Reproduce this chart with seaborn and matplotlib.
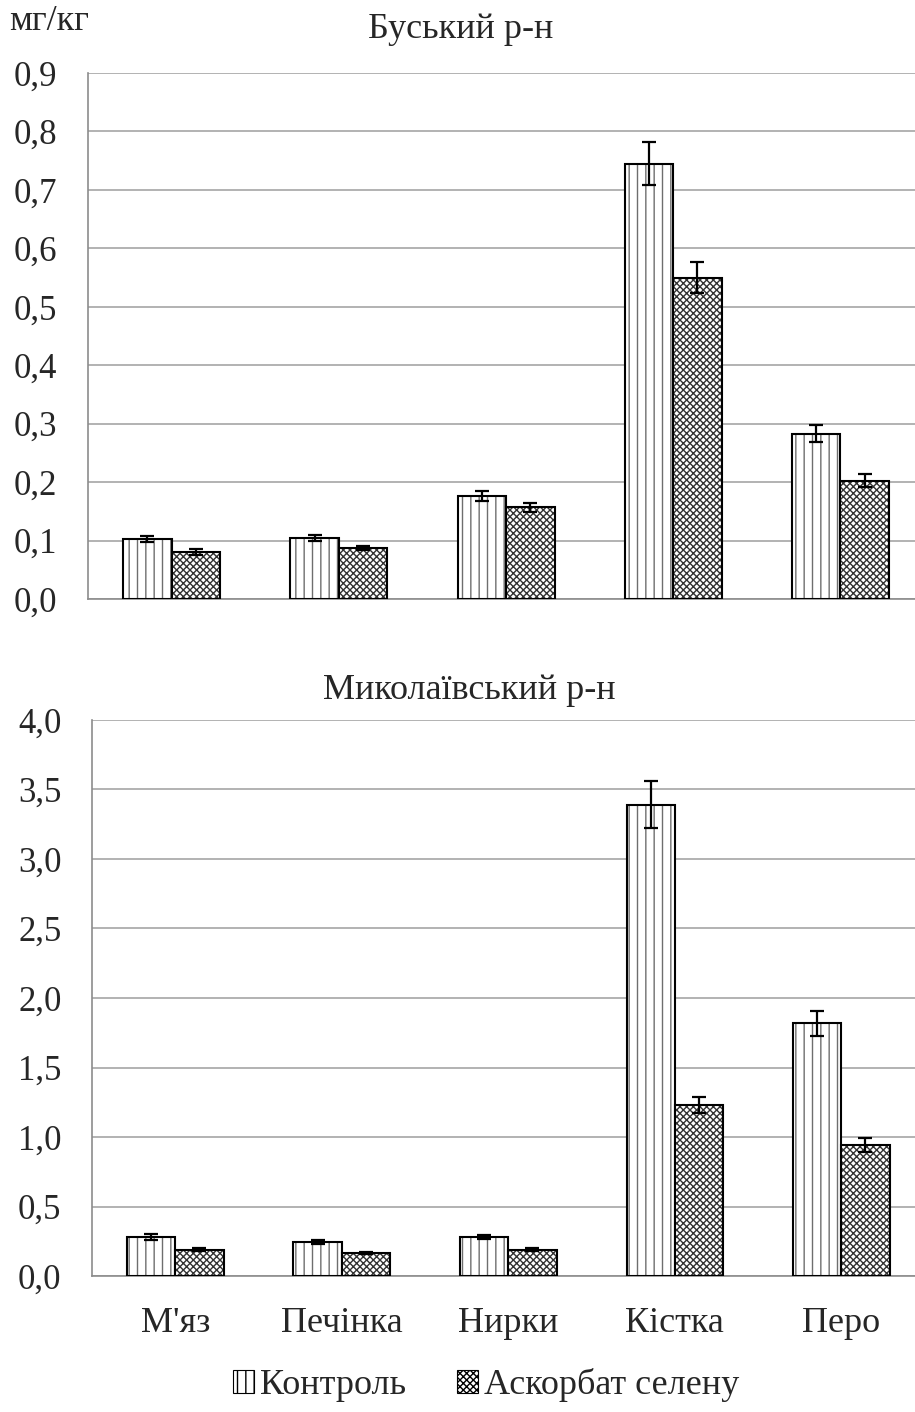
import numpy as np
import pandas as pd
import matplotlib
matplotlib.use("Agg")
import matplotlib.pyplot as plt
import seaborn as sns
from matplotlib.patches import Patch

# data
organs = ["М'яз", "Печінка", "Нирки", "Кістка", "Перо"]
groups = ["Контроль", "Аскорбат селену"]

busk_control = [0.102, 0.104, 0.176, 0.745, 0.283]
busk_control_err = [0.005, 0.005, 0.008, 0.037, 0.015]
busk_ascorb = [0.080, 0.087, 0.157, 0.550, 0.202]
busk_ascorb_err = [0.005, 0.004, 0.008, 0.027, 0.011]

mykol_control = [0.28, 0.245, 0.28, 3.39, 1.82]
mykol_control_err = [0.02, 0.015, 0.015, 0.17, 0.09]
mykol_ascorb = [0.19, 0.165, 0.19, 1.23, 0.94]
mykol_ascorb_err = [0.01, 0.01, 0.01, 0.06, 0.05]

busk_yticks = [0.0, 0.1, 0.2, 0.3, 0.4, 0.5, 0.6, 0.7, 0.8, 0.9]
busk_yticklabels = ["0,0", "0,1", "0,2", "0,3", "0,4", "0,5", "0,6", "0,7", "0,8", "0,9"]
mykol_yticks = [0.0, 0.5, 1.0, 1.5, 2.0, 2.5, 3.0, 3.5, 4.0]
mykol_yticklabels = ["0,0", "0,5", "1,0", "1,5", "2,0", "2,5", "3,0", "3,5", "4,0"]

sns.set_style("white")
plt.rcParams['font.family'] = ['Liberation Serif', 'DejaVu Serif']
plt.rcParams['hatch.linewidth'] = 1.0

hatches = ['||', 'xxxxx']
hatch_colors = ['#6e6e6e', '#333333']


def make_df(ctrl, asc):
    return pd.DataFrame({
        'organ': organs * 2,
        'group': [groups[0]] * 5 + [groups[1]] * 5,
        'value': list(ctrl) + list(asc),
    })


def draw(ax, ctrl, ctrl_err, asc, asc_err, yticks, yticklabels, show_labels):
    df = make_df(ctrl, asc)
    sns.barplot(data=df, x='organ', y='value', hue='group', order=organs,
                hue_order=groups, width=0.58, palette=['white', 'white'],
                edgecolor='black', linewidth=1.5, errorbar=None, legend=False,
                ax=ax, zorder=3)
    errs = list(ctrl_err) + list(asc_err)
    for i, bar in enumerate(ax.patches[:10]):
        bar.set_hatch(hatches[i // 5])
        bar._hatch_color = matplotlib.colors.to_rgba(hatch_colors[i // 5])
        cx = bar.get_x() + bar.get_width() / 2
        ax.errorbar(cx, bar.get_height(), yerr=errs[i], fmt='none',
                    ecolor='black', elinewidth=1.6, capsize=5, capthick=1.6,
                    zorder=4)
    ax.set_ylim(yticks[0], yticks[-1])
    ax.set_yticks(yticks)
    ax.set_yticklabels(yticklabels, fontsize=25)
    ax.yaxis.grid(True, color='#a6a6a6', linewidth=1.2, zorder=0)
    ax.set_axisbelow(True)
    ax.set_xlim(-0.5, 4.5)
    ax.set_xticks(range(5))
    if show_labels:
        ax.set_xticklabels(organs, fontsize=26)
    else:
        ax.set_xticklabels([])
    ax.set_xticks(np.arange(-0.5, 5.0, 1.0), minor=True)
    ax.tick_params(axis='x', which='major', length=0, pad=22)
    ax.tick_params(axis='x', which='minor', length=10, color='#8c8c8c', width=1.2)
    ax.tick_params(axis='y', length=10, color='#8c8c8c', width=1.2, pad=12)
    ax.set_xlabel('')
    ax.set_ylabel('')
    for side in ['top', 'right']:
        ax.spines[side].set_visible(False)
    for side in ['left', 'bottom']:
        ax.spines[side].set_color('#8c8c8c')
        ax.spines[side].set_linewidth(1.2)


fig = plt.figure(figsize=(9.15, 14.12), dpi=100)
ax1 = fig.add_axes([0.0962, 0.5758, 0.9137, 0.3725])
ax2 = fig.add_axes([0.1005, 0.0963, 0.910, 0.3938])

draw(ax1, busk_control, busk_control_err, busk_ascorb, busk_ascorb_err,
     busk_yticks, busk_yticklabels, False)
draw(ax2, mykol_control, mykol_control_err, mykol_ascorb, mykol_ascorb_err,
     mykol_yticks, mykol_yticklabels, True)

fig.text(0.503, 0.979, 'Буський р-н', fontsize=26, ha='center', va='center')
fig.text(0.513, 0.511, 'Миколаївський р-н', fontsize=26, ha='center', va='center')
fig.text(0.010, 0.985, 'мг/кг', fontsize=26, ha='left', va='center')

# legend
handles = [Patch(facecolor='white', edgecolor='black', hatch=hatches[0], linewidth=0.8),
           Patch(facecolor='white', edgecolor='black', hatch=hatches[1], linewidth=0.8)]
fig.legend(handles, groups, loc='center', bbox_to_anchor=(0.531, 0.019), ncol=2,
           frameon=False, fontsize=26, handlelength=0.6, handleheight=0.6,
           handletextpad=0.15, columnspacing=1.4)

plt.savefig('out.png', dpi=100)
